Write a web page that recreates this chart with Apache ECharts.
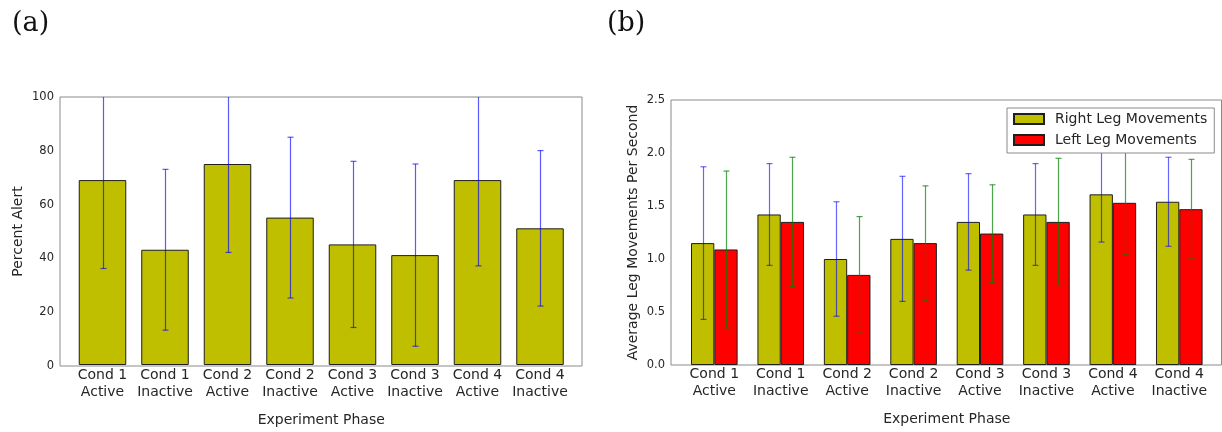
<!DOCTYPE html>
<html>
<head>
<meta charset="utf-8">
<title>Alertness and leg movements by experiment phase</title>
<script src="https://cdn.jsdelivr.net/npm/echarts@6/dist/echarts.min.js"></script>
<style>
  html, body { margin: 0; padding: 0; background: #ffffff; }
  #chart { width: 1222px; height: 432px; }
</style>
</head>
<body>
<div id="chart"></div>
<script>
// Experiment phases shared by both panels
const categories = [
  'Cond 1\nActive', 'Cond 1\nInactive', 'Cond 2\nActive', 'Cond 2\nInactive',
  'Cond 3\nActive', 'Cond 3\nInactive', 'Cond 4\nActive', 'Cond 4\nInactive'
];

// Panel (a): percent alert, mean and standard deviation
const alertMean = [69, 43, 75, 55, 45, 41, 69, 51];
const alertErr  = [33, 30, 33, 30, 31, 34, 32, 29];

// Panel (b): average leg movements per second, mean and standard deviation
const rightMean = [1.15, 1.42, 1.00, 1.19, 1.35, 1.42, 1.61, 1.54];
const rightErr  = [0.72, 0.48, 0.54, 0.59, 0.455, 0.48, 0.45, 0.42];
const leftMean  = [1.09, 1.35, 0.85, 1.15, 1.24, 1.35, 1.53, 1.47];
const leftErr   = [0.74, 0.61, 0.55, 0.54, 0.46, 0.60, 0.49, 0.47];

// Axis ranges and tick steps
const alertTicks = { min: 0, max: 100, interval: 20 };
const legTicks = { min: 0, max: 2.5, interval: 0.5 };

const FONT = 'DejaVu Sans';
const TEXT = '#262626';
const FRAME = '#8a8a8a';
const OLIVE = '#bfbf00';
const RED = '#ff0000';

// Panel geometry (px)
const A = { frameLeft: 60, frameWidth: 522, top: 97, height: 269, barLeft: 71.25, barSpan: 500, barWidth: 47.5 };
const B = { frameLeft: 671, frameWidth: 550.5, top: 100, height: 265, barLeft: 681.1, barSpan: 531.4, barWidth: 23.3 };

function errorData(mean, err) {
  return mean.map((m, i) => [i, m - err[i], m + err[i]]);
}

// Vertical error bar with caps, centred on a bar (offset in px from category centre)
function errorBars(color, offset) {
  return function (params, api) {
    const i = api.value(0);
    const lo = api.coord([i, api.value(1)]);
    const hi = api.coord([i, api.value(2)]);
    const x = Math.round(lo[0] + offset) + 0.5;
    const cap = 3;
    const style = { stroke: color, lineWidth: 1.2, fill: null };
    return {
      type: 'group',
      children: [
        { type: 'line', shape: { x1: x, y1: lo[1], x2: x, y2: hi[1] }, style: style },
        { type: 'line', shape: { x1: x - cap, y1: lo[1], x2: x + cap, y2: lo[1] }, style: style },
        { type: 'line', shape: { x1: x - cap, y1: hi[1], x2: x + cap, y2: hi[1] }, style: style }
      ]
    };
  };
}

function frameY(t, name, nameGap) {
  return {
    type: 'value', min: t.min, max: t.max, interval: t.interval,
    name: name, nameLocation: 'middle', nameGap: nameGap,
    nameTextStyle: { fontFamily: FONT, fontSize: 14, color: TEXT },
    axisLine: { show: false }, axisTick: { show: false }, splitLine: { show: false },
    axisLabel: {
      fontFamily: FONT, fontSize: 11.5, color: TEXT, margin: 6,
      formatter: t.interval < 1 ? (v) => v.toFixed(1) : (v) => String(v)
    }
  };
}

function hiddenY(t) {
  return { type: 'value', min: t.min, max: t.max, interval: t.interval, show: false, splitLine: { show: false } };
}

function categoryX(gridIndex, margin, nameGap) {
  return {
    type: 'category', gridIndex: gridIndex, data: categories,
    name: 'Experiment Phase', nameLocation: 'middle', nameGap: nameGap,
    nameTextStyle: { fontFamily: FONT, fontSize: 14, color: TEXT },
    axisLine: { show: false }, axisTick: { show: false },
    axisLabel: { interval: 0, fontFamily: FONT, fontSize: 14, lineHeight: 17, color: TEXT, margin: margin }
  };
}

const barBorder = { borderColor: '#1e1e1e', borderWidth: 1 };

const option = {
  animation: false,
  backgroundColor: '#ffffff',
  title: [
    { text: '(a)', left: 12, top: 10, padding: 0,
      textStyle: { fontFamily: 'DejaVu Serif', fontSize: 27, fontWeight: 'normal', color: '#111' } },
    { text: '(b)', left: 607, top: 10, padding: 0,
      textStyle: { fontFamily: 'DejaVu Serif', fontSize: 27, fontWeight: 'normal', color: '#111' } }
  ],
  legend: {
    orient: 'vertical', left: 1007, top: 108,
    padding: [4, 7, 6, 6], itemGap: 7, itemWidth: 30, itemHeight: 10, icon: 'rect',
    backgroundColor: '#ffffff', borderColor: FRAME, borderWidth: 1, z: 10,
    textStyle: { fontFamily: FONT, fontSize: 14, lineHeight: 14, color: TEXT, padding: [0, 0, 0, 6] },
    data: ['Right Leg Movements', 'Left Leg Movements']
  },
  grid: [
    // (a) frame and bar area
    { left: A.frameLeft, top: A.top, width: A.frameWidth, height: A.height, show: true, borderColor: FRAME, borderWidth: 1, backgroundColor: 'transparent' },
    { left: A.barLeft, top: A.top, width: A.barSpan, height: A.height },
    // (b) frame and bar area
    { left: B.frameLeft, top: B.top, width: B.frameWidth, height: B.height, show: true, borderColor: FRAME, borderWidth: 1, backgroundColor: 'transparent' },
    { left: B.barLeft, top: B.top, width: B.barSpan, height: B.height }
  ],
  xAxis: [
    { type: 'category', gridIndex: 0, data: categories, show: false },
    categoryX(1, 2, 48),
    { type: 'category', gridIndex: 2, data: categories, show: false },
    categoryX(3, 1, 47)
  ],
  yAxis: [
    Object.assign(frameY(alertTicks, 'Percent Alert', 35), { gridIndex: 0 }),
    Object.assign(hiddenY(alertTicks), { gridIndex: 1 }),
    Object.assign(frameY(legTicks, 'Average Leg Movements Per Second', 31), { gridIndex: 2 }),
    Object.assign(hiddenY(legTicks), { gridIndex: 3 })
  ],
  series: [
    {
      name: 'Percent Alert', type: 'bar', xAxisIndex: 1, yAxisIndex: 1,
      data: alertMean, barWidth: A.barWidth,
      itemStyle: Object.assign({ color: OLIVE }, barBorder)
    },
    {
      type: 'custom', xAxisIndex: 1, yAxisIndex: 1, clip: true, z: 3,
      data: errorData(alertMean, alertErr),
      renderItem: errorBars('rgba(0,0,255,0.65)', 0)
    },
    {
      name: 'Right Leg Movements', type: 'bar', xAxisIndex: 3, yAxisIndex: 3,
      data: rightMean, barWidth: B.barWidth, barGap: '0%',
      itemStyle: Object.assign({ color: OLIVE }, barBorder)
    },
    {
      name: 'Left Leg Movements', type: 'bar', xAxisIndex: 3, yAxisIndex: 3,
      data: leftMean, barWidth: B.barWidth, barGap: '0%',
      itemStyle: Object.assign({ color: RED }, barBorder)
    },
    {
      type: 'custom', xAxisIndex: 3, yAxisIndex: 3, clip: true, z: 3,
      data: errorData(rightMean, rightErr),
      renderItem: errorBars('rgba(0,0,255,0.6)', -B.barWidth / 2)
    },
    {
      type: 'custom', xAxisIndex: 3, yAxisIndex: 3, clip: true, z: 3,
      data: errorData(leftMean, leftErr),
      renderItem: errorBars('rgba(0,128,0,0.7)', B.barWidth / 2)
    }
  ]
};

const chart = echarts.init(document.getElementById('chart'), null, { renderer: 'canvas' });
chart.setOption(option);
</script>
</body>
</html>
